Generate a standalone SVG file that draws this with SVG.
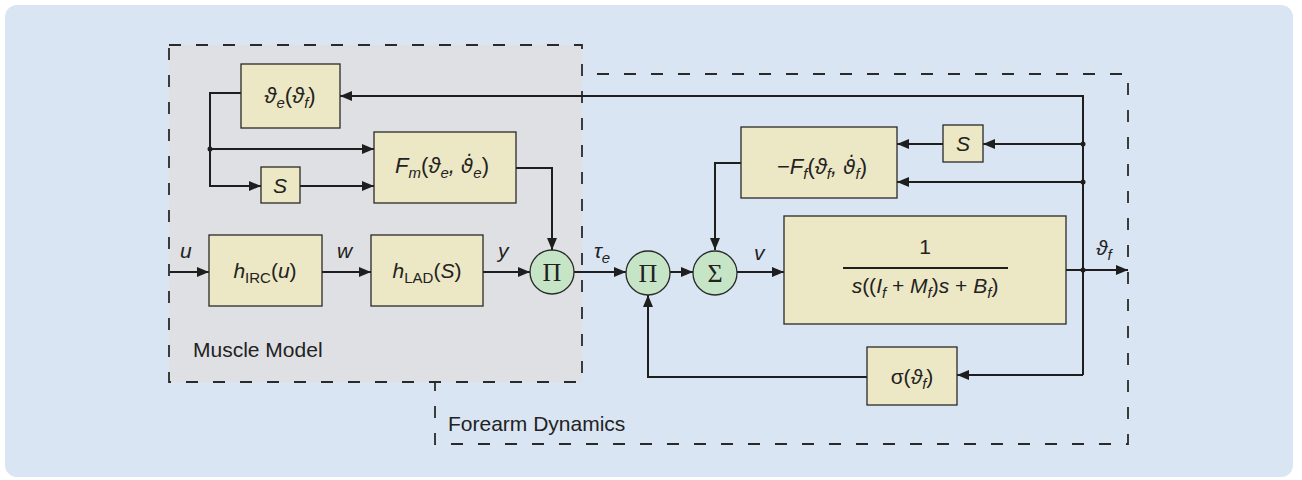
<svg xmlns="http://www.w3.org/2000/svg" width="1302" height="480" viewBox="0 0 1302 480">
<defs>
<style>
.bg{fill:#d9e5f3}
.mm{fill:#dfe0e3}
.box{fill:#ece7c4;stroke:#2a2a2a;stroke-width:1.3}
.circ{fill:#c6e5c6;stroke:#2a2a2a;stroke-width:1.3}
.wire{fill:none;stroke:#1e1e1e;stroke-width:2}
.dash{fill:none;stroke:#2a2a2a;stroke-width:1.8;stroke-dasharray:12 15}
.t{font-family:"Liberation Sans",Arial,"DejaVu Sans",sans-serif;font-size:21px;fill:#222}
.m{font-size:22px}
.dv{font-family:"DejaVu Sans",sans-serif;font-size:20px}
.i{font-style:italic}
.n{font-style:normal}
.sub{font-size:15px}
.g{font-family:"Liberation Serif","Times New Roman",serif;font-size:26px;fill:#222}
.dot{fill:#1e1e1e}
</style>
<marker id="ah" markerUnits="userSpaceOnUse" viewBox="0 0 12 10" markerWidth="12" markerHeight="10" refX="12" refY="5" orient="auto">
<path d="M0,0 L12,5 L0,10 z" fill="#1e1e1e"/>
</marker>
</defs>

<rect class="bg" x="5" y="5" width="1288" height="472" rx="12"/>

<g id="forearm-dynamics">
<rect class="dash" x="435" y="74" width="693" height="370"/>
<text class="t" x="448" y="431">Forearm Dynamics</text>
</g>

<g id="muscle-model">
<rect class="mm" x="169" y="45" width="413" height="337"/>
<rect class="dash" x="169" y="45" width="413" height="337"/>
<text class="t" x="193" y="357">Muscle Model</text>
</g>

<g id="connectors">
<path class="wire" d="M1083,375 V96 H340" marker-end="url(#ah)"/>
<path class="wire" d="M241,93 H210 V186 H261" marker-end="url(#ah)"/>
<path class="wire" d="M210,149 H374" marker-end="url(#ah)"/>
<path class="wire" d="M300,186 H374" marker-end="url(#ah)"/>
<path class="wire" d="M516,168 H552 V250" marker-end="url(#ah)"/>
<path class="wire" d="M170,272 H209" marker-end="url(#ah)"/>
<path class="wire" d="M322,272 H371" marker-end="url(#ah)"/>
<path class="wire" d="M483,272 H530" marker-end="url(#ah)"/>
<path class="wire" d="M574,272 H626" marker-end="url(#ah)"/>
<path class="wire" d="M670,272 H693" marker-end="url(#ah)"/>
<path class="wire" d="M737,272 H784" marker-end="url(#ah)"/>
<path class="wire" d="M741,163 H715 V250" marker-end="url(#ah)"/>
<path class="wire" d="M1083,144 H983" marker-end="url(#ah)"/>
<path class="wire" d="M943,144 H897" marker-end="url(#ah)"/>
<path class="wire" d="M1083,182 H897" marker-end="url(#ah)"/>
<path class="wire" d="M1066,270 H1128" marker-end="url(#ah)"/>
<path class="wire" d="M1083,375 H957" marker-end="url(#ah)"/>
<path class="wire" d="M867,377 H648 V295" marker-end="url(#ah)"/>
<circle class="dot" cx="210" cy="149" r="2.5"/>
<circle class="dot" cx="1083" cy="144" r="2.5"/>
<circle class="dot" cx="1083" cy="182" r="2.5"/>
<circle class="dot" cx="1083" cy="270" r="2.5"/>
<text class="t i" x="180" y="258">u</text>
<text class="t i" x="337" y="258">w</text>
<text class="t i" x="498" y="258">y</text>
<text class="t i" x="594" y="258">τ<tspan class="sub" dy="5">e</tspan></text>
<text class="t i" x="754" y="260">v</text>
<text class="t i" x="1096" y="255">ϑ<tspan class="sub" dy="5">f</tspan></text>
</g>

<g id="theta-e">
<rect class="box" x="241" y="64" width="99" height="64"/>
<text class="t m i" x="290" y="103" text-anchor="middle">ϑ<tspan class="sub" dy="5">e</tspan><tspan class="n" dy="-5">(</tspan>ϑ<tspan class="sub" dy="5">f</tspan><tspan class="n" dy="-5">)</tspan></text>
</g>

<g id="fm">
<rect class="box" x="374" y="132" width="142" height="71"/>
<text class="t m i" x="442" y="173" text-anchor="middle">F<tspan class="sub" dy="5">m</tspan><tspan class="n" dy="-5">(</tspan>ϑ<tspan class="sub" dy="5">e</tspan><tspan dy="-5">, </tspan><tspan class="dv">ϑ̇</tspan><tspan class="sub" dy="5">e</tspan><tspan class="n" dy="-5">)</tspan></text>
</g>

<g id="s-muscle">
<rect class="box" x="261" y="167" width="39" height="36"/>
<text class="t i" x="280" y="193" text-anchor="middle">S</text>
</g>

<g id="h-irc">
<rect class="box" x="209" y="235" width="113" height="71"/>
<text class="t i" x="265" y="278" text-anchor="middle">h<tspan class="sub n" dy="5">IRC</tspan><tspan class="n" dy="-5">(</tspan>u<tspan class="n">)</tspan></text>
</g>

<g id="h-lad">
<rect class="box" x="371" y="235" width="112" height="71"/>
<text class="t i" x="427" y="278" text-anchor="middle">h<tspan class="sub n" dy="5">LAD</tspan><tspan class="n" dy="-5">(</tspan>S<tspan class="n">)</tspan></text>
</g>

<g id="pi-1">
<circle class="circ" cx="552" cy="272" r="22"/>
<text class="g" x="552" y="281" text-anchor="middle">Π</text>
</g>

<g id="pi-2">
<circle class="circ" cx="648" cy="273" r="22"/>
<text class="g" x="648" y="282" text-anchor="middle">Π</text>
</g>

<g id="sigma-sum">
<circle class="circ" cx="715" cy="273" r="22"/>
<text class="g" x="715" y="282" text-anchor="middle">Σ</text>
</g>

<g id="plant">
<rect class="box" x="784" y="216" width="282" height="108"/>
<text class="t" x="925" y="254" text-anchor="middle">1</text>
<line x1="843" y1="268" x2="1008" y2="268" stroke="#1e1e1e" stroke-width="2"/>
<text class="t i" x="925" y="293" text-anchor="middle">s<tspan class="n">((</tspan>I<tspan class="sub" dy="5">f</tspan><tspan class="n" dy="-5"> + </tspan>M<tspan class="sub" dy="5">f</tspan><tspan class="n" dy="-5">)</tspan>s<tspan class="n"> + </tspan>B<tspan class="sub" dy="5">f</tspan><tspan class="n" dy="-5">)</tspan></text>
</g>

<g id="ff">
<rect class="box" x="741" y="127" width="156" height="71"/>
<text class="t m i" x="822" y="174" text-anchor="middle"><tspan class="n">−</tspan>F<tspan class="sub" dy="5">f</tspan><tspan class="n" dy="-5">(</tspan>ϑ<tspan class="sub" dy="5">f</tspan><tspan dy="-5">, </tspan><tspan class="dv">ϑ̇</tspan><tspan class="sub" dy="5">f</tspan><tspan class="n" dy="-5">)</tspan></text>
</g>

<g id="s-forearm">
<rect class="box" x="943" y="125" width="40" height="37"/>
<text class="t i" x="963" y="151" text-anchor="middle">S</text>
</g>

<g id="sigma-theta">
<rect class="box" x="867" y="347" width="90" height="58"/>
<text class="t" x="912" y="384" text-anchor="middle">σ(<tspan class="i">ϑ</tspan><tspan class="sub i" dy="5">f</tspan><tspan dy="-5">)</tspan></text>
</g>
</svg>
